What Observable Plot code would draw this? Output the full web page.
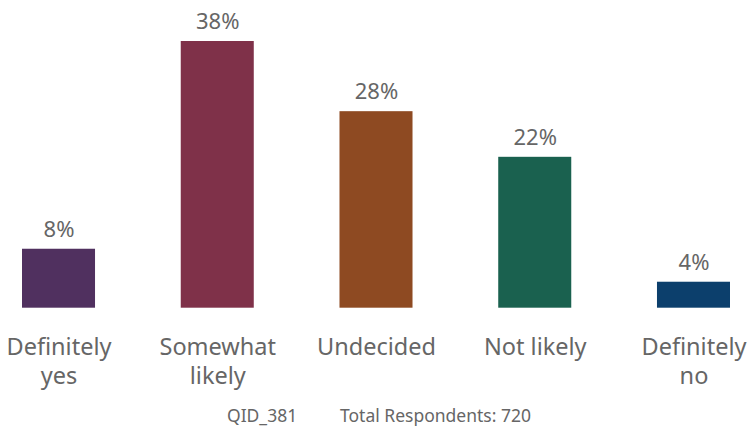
<!DOCTYPE html>
<html><head><meta charset="utf-8">
<script src="https://cdn.jsdelivr.net/npm/d3@7"></script>
<script src="https://cdn.jsdelivr.net/npm/@observablehq/plot@0.6"></script>
<style>
body{margin:0;background:#fff;font-family:"Noto Sans",sans-serif;}
#wrap{width:752px;height:427px;overflow:hidden;position:relative;}
#cap span{position:absolute;top:407px;font-size:17.5px;line-height:1;color:#666;white-space:nowrap;}
</style></head><body><div id="wrap"><div id="chart"></div><div id="cap"><span id="q"></span><span id="t"></span></div></div>
<script>
const categories = ["Definitely\nyes","Somewhat\nlikely","Undecided","Not likely","Definitely\nno"];
const values = [8.4, 38, 28, 21.5, 3.7];
const labels = ["8%","38%","28%","22%","4%"];
const colors = ["#50305f","#7f3149","#8e4a22","#1a614f","#0c3f6c"];
const caption = ["QID_381","Total Respondents: 720"];

const data = categories.map((c,i)=>({c, v: values[i], l: labels[i]}));
const chart = Plot.plot({
  width:752, height:395,
  marginLeft:22, marginRight:22, marginTop:41, marginBottom:87.3,
  style:{fontFamily:"Noto Sans", background:"#fff", overflow:"visible"},
  x:{domain:categories, paddingInner:0.54, paddingOuter:0, round:false, axis:null},
  y:{domain:[0,38], axis:null},
  color:{domain:categories, range:colors},
  marks:[
    Plot.barY(data,{x:"c", y:"v", fill:"c"}),
    Plot.text(data,{x:"c", y:"v", text:"l", lineAnchor:"bottom", dy:-12.7, fontSize:22, fill:"#666"}),
    Plot.text(data,{x:"c", y:0, text:"c", lineAnchor:"top", dy:26.5, fontSize:23.5, lineHeight:1.23, fill:"#666"})
  ]
});
document.getElementById("chart").append(chart);
const q = document.getElementById("q"), t = document.getElementById("t");
q.textContent = caption[0]; q.style.left = "227px";
t.textContent = caption[1]; t.style.left = "340px";
</script></body></html>
